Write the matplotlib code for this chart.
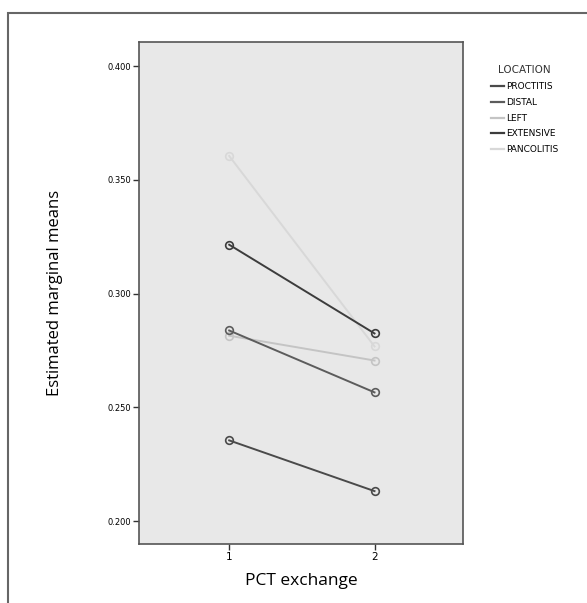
import matplotlib
matplotlib.use('Agg')
import matplotlib.pyplot as plt
from matplotlib.patches import Rectangle
from matplotlib.lines import Line2D

# Estimated marginal means by location, PCT exchange 1 -> 2
exchange = [1, 2]
locations = ['PROCTITIS', 'DISTAL', 'LEFT', 'EXTENSIVE', 'PANCOLITIS']
proctitis = [0.2355, 0.2132]
distal = [0.2838, 0.2566]
left = [0.2815, 0.2706]
extensive = [0.3215, 0.2825]
pancolitis = [0.3605, 0.2768]
yticks = [0.200, 0.250, 0.300, 0.350, 0.400]

series = [proctitis, distal, left, extensive, pancolitis]
colors = ['#4a4a4a', '#5c5c5c', '#c4c4c4', '#3c3c3c', '#d8d8d8']

narrow = ['Liberation Sans Narrow', 'DejaVu Sans']

fig = plt.figure(figsize=(5.87, 6.03), dpi=100)
ax = fig.add_axes([0.237, 0.098, 0.552, 0.832])
ax.set_facecolor('#e8e8e8')

# draw the faint ones first so the dark lines sit on top
order = [4, 2, 1, 3, 0]
for i in order:
    ax.plot(exchange, series[i], color=colors[i], lw=1.4,
            marker='o', ms=5.5, mfc='none', mec=colors[i], mew=1.2,
            zorder=2 + (0 if i in (2, 4) else 1))

ax.set_xlim(0.38, 2.61)
ax.set_ylim(0.190, 0.4105)
ax.set_xticks(exchange)
ax.set_xticklabels(['1', '2'], family=narrow, fontsize=7.5)
ax.set_yticks(yticks)
ax.set_yticklabels(['%.3f' % v for v in yticks], family=narrow, fontsize=6)
ax.tick_params(direction='out', length=4, width=1, color='#333333', pad=1.5)

for s in ax.spines.values():
    s.set_color('#555555')
    s.set_linewidth(1.2)

ax.set_xlabel('PCT exchange', family='Open Sans', fontsize=12.5, labelpad=8)
ax.set_ylabel('Estimated marginal means', family='Open Sans', fontsize=12, labelpad=32)

# legend to the right of the plot
handles = [Line2D([0], [0], color=c, lw=1.6) for c in colors]
leg = fig.legend(handles, locations, loc='upper left', bbox_to_anchor=(0.822, 0.905),
                 frameon=False, title='LOCATION', handlelength=1.5, handletextpad=0.2,
                 labelspacing=0.75, prop={'family': narrow, 'size': 6.5})
leg.get_title().set_fontfamily(narrow)
leg.get_title().set_fontsize(7.5)
leg.get_title().set_color('#333333')

# outer frame of the exported chart
fig.add_artist(Rectangle((8 / 587, -0.05), 1.0, 1 - 13 / 603 + 0.05,
                         transform=fig.transFigure, fill=False,
                         edgecolor='#666666', lw=1.5, clip_on=False))

fig.savefig('out.png', dpi=100)
